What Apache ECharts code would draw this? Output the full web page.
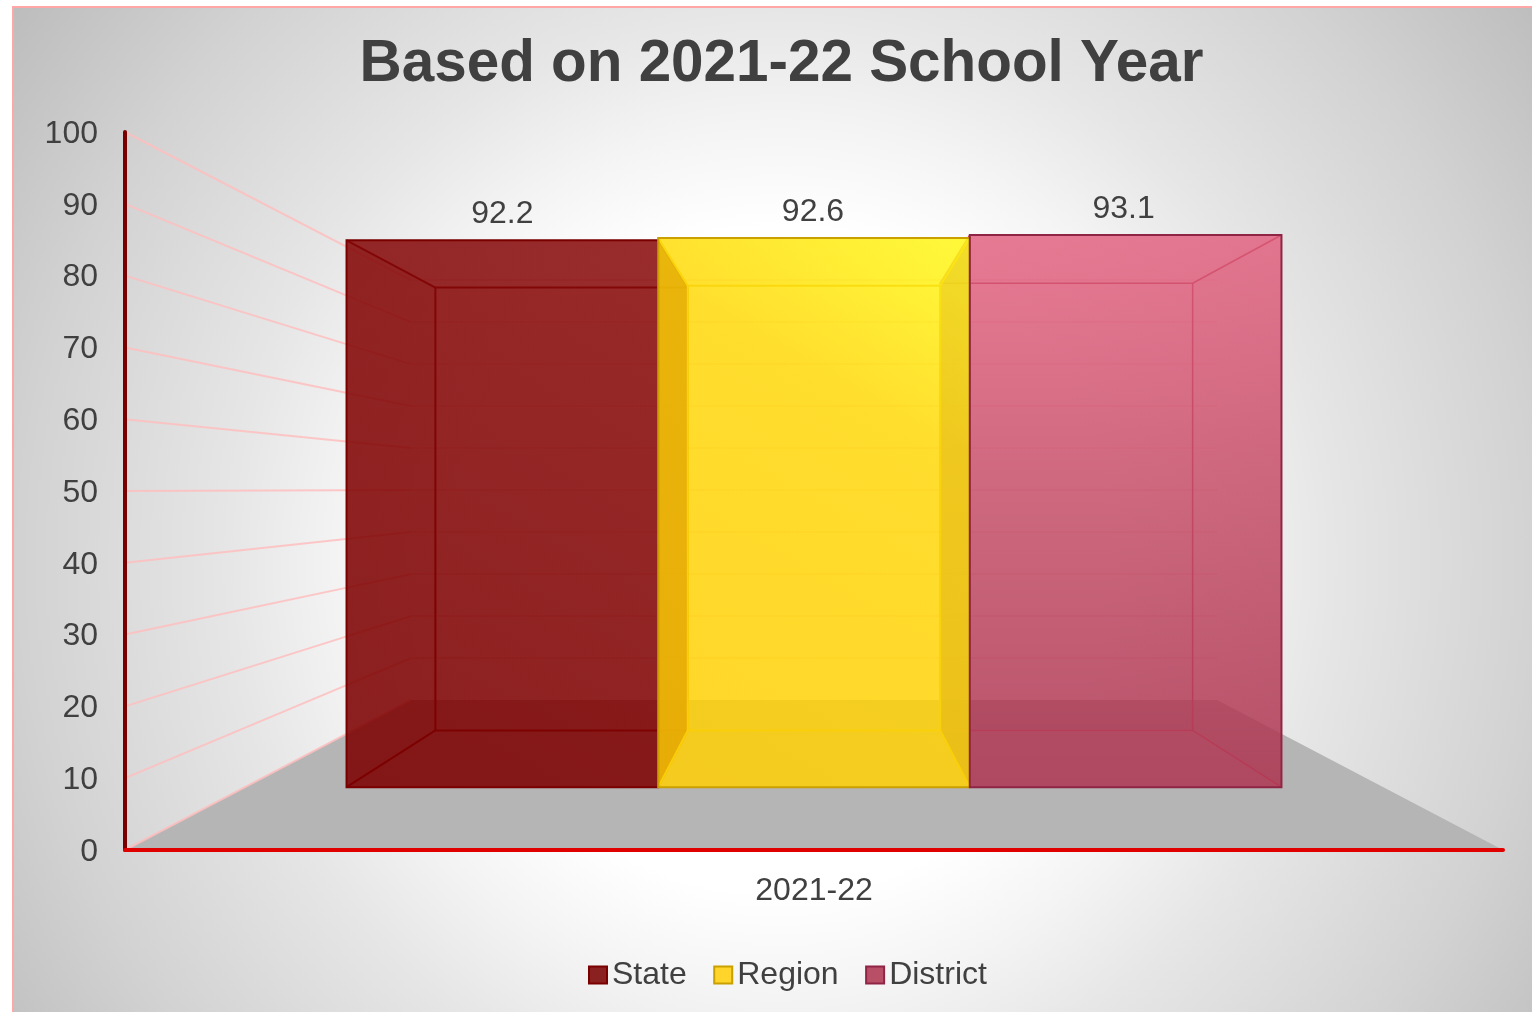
<!DOCTYPE html>
<html>
<head>
<meta charset="utf-8">
<style>html,body{margin:0;padding:0;background:#fff}#main{width:1532px;height:1012px}</style>
<script src="https://cdn.jsdelivr.net/npm/echarts@6/dist/echarts.min.js"></script>
</head>
<body>
<div id="main"></div>
<script>
var titleText = 'Based on 2021-22 School Year';
var categories = ['2021-22'];
var seriesNames = ['State', 'Region', 'District'];
var stateValues = [92.2];
var regionValues = [92.6];
var districtValues = [93.1];
var yTicks = [0, 10, 20, 30, 40, 50, 60, 70, 80, 90, 100];

var FONT = '"Liberation Sans", Arial, sans-serif';
var TEXT = '#404040';
// perspective of the 3-D chart box
var VANISH_VALUE = 50.3, S_BAR_FRONT = 0.826, S_BAR_BACK = 0.669, S_WALL = 0.585, BAR_FRAC = 0.2738;

var styles = {
  State: {
    alpha: 0.65, dir: [0, 1, 1, 0], base: '#7c0000', left: '#7c0000', right: '#7c0000', line: '#7a0000', lineBack: '#7a0000', backW: 2,
    topStops: [[0, '#861010'], [1, '#8c1414']], front: [[0, '#7c0000'], [1, '#8a0c0c']], legend: '#8b2020'
  },
  Region: {
    alpha: 0.62, dir: [0, 1, 1, 0], base: '#ffcf05', left: '#e6b000', right: '#d8d818', line: '#c9a000', lineBack: '#f2cc10', backW: 2,
    topStops: [[0, '#ffd808'], [1, '#fffb1b']], front: [[0, '#ffcf05'], [0.7, '#ffd80a'], [1, '#fff818']], legend: '#ffd52b'
  },
  District: {
    alpha: 0.6, dir: [0, 1, 0, 0], base: '#b83a58', left: null, right: null, line: '#8f2545', lineBack: '#c4445f', backW: 1.5,
    topStops: [[0, '#e2607f'], [1, '#e2607f']], front: [[0, '#aa324e'], [0.5, '#c24a64'], [1, '#e2607f']], legend: '#b94f66'
  }
};

function rgba(hex, a) {
  var n = parseInt(hex.slice(1), 16);
  return 'rgba(' + (n >> 16) + ',' + ((n >> 8) & 255) + ',' + (n & 255) + ',' + a + ')';
}
function gradient(dir, list, a) {
  return new echarts.graphic.LinearGradient(dir[0], dir[1], dir[2], dir[3], list.map(function (s) {
    return { offset: s[0], color: rgba(s[1], a) };
  }));
}
function projector(api) {
  var c = api.coord([0, 0]);
  var vp = [c[0], api.coord([0, VANISH_VALUE])[1]];
  var band = api.size([1, 0])[0];
  return {
    band: band,
    // dx: offset from band centre in front-plane pixels, v: value, s: depth scale
    p: function (dx, v, s) {
      var y = api.coord([0, v])[1];
      return [vp[0] + s * dx, vp[1] + s * (y - vp[1])];
    }
  };
}
function poly(points, fill, stroke, lw) {
  return {
    type: 'polygon', shape: { points: points },
    style: { fill: fill || 'none', stroke: stroke || 'none', lineWidth: lw || 0 }
  };
}
function line(a, b, color, lw) {
  return {
    type: 'line', shape: { x1: a[0], y1: a[1], x2: b[0], y2: b[1] },
    style: { stroke: color, lineWidth: lw, fill: 'none' }
  };
}

function renderWalls(params, api) {
  var P = projector(api), tick = api.value(1), h = P.band / 2, kids = [];
  var a = P.p(-h, tick, 1), b = P.p(-h, tick, S_WALL), c = P.p(h, tick, S_WALL);
  if (tick === yTicks[0]) {
    kids.push(poly([P.p(-h, tick, 1), P.p(-h, tick, S_WALL), P.p(h, tick, S_WALL), P.p(h, tick, 1)], '#b5b5b5'));
  }
  kids.push(line(a, b, 'rgba(255,190,190,0.85)', 2));
  if (tick !== yTicks[0]) kids.push(line(b, c, 'rgba(255,190,190,0.55)', 1.5));
  return { type: 'group', children: kids };
}

// which: 'inner' draws hidden faces, 'front' draws the near face and label
function barRenderer(name, index, which) {
  return function (params, api) {
    var st = styles[name], v = api.value(1), P = projector(api);
    var w = P.band * BAR_FRAC, x0 = (index - 1.5) * w, x1 = x0 + w, kids = [];
    var f = function (x, val) { return P.p(x, val, S_BAR_FRONT); };
    var k = function (x, val) { return P.p(x, val, S_BAR_BACK); };
    var a = st.alpha;
    if (which === 'inner') {
      kids.push(poly([k(x0, 0), k(x1, 0), k(x1, v), k(x0, v)], gradient(st.dir, st.front, a)));
      kids.push(poly([f(x0, 0), f(x1, 0), k(x1, 0), k(x0, 0)], rgba(st.base, a)));
      kids.push(poly([f(x0, v), f(x1, v), k(x1, v), k(x0, v)], gradient([0, 0, 1, 0], st.topStops, a)));
      kids.push(poly([f(x0, 0), f(x0, v), k(x0, v), k(x0, 0)], st.left ? rgba(st.left, a) : gradient(st.dir, st.front, a)));
      kids.push(poly([f(x1, 0), f(x1, v), k(x1, v), k(x1, 0)], st.right ? rgba(st.right, a) : gradient(st.dir, st.front, a)));
      var lc = st.lineBack, lw = st.backW;
      kids.push(poly([k(x0, 0), k(x1, 0), k(x1, v), k(x0, v)], 'none', lc, lw));
      kids.push(line(f(x0, 0), k(x0, 0), lc, lw));
      kids.push(line(f(x1, 0), k(x1, 0), lc, lw));
      kids.push(line(f(x0, v), k(x0, v), lc, lw));
      kids.push(line(f(x1, v), k(x1, v), lc, lw));
    } else {
      kids.push(poly([f(x0, 0), f(x1, 0), f(x1, v), f(x0, v)], gradient(st.dir, st.front, a), st.line, 2));
      var t = f((x0 + x1) / 2, v);
      kids.push({
        type: 'text',
        style: {
          text: api.value(1).toFixed(1), x: t[0] - index, y: t[1] - 26, align: 'center', verticalAlign: 'middle',
          font: '32px ' + FONT, fill: TEXT
        }
      });
    }
    return { type: 'group', children: kids };
  };
}

var valuesByName = { State: stateValues, Region: regionValues, District: districtValues };
function barData(name) { return valuesByName[name].map(function (v, i) { return [i, v]; }); }

var innerOrder = ['State', 'District', 'Region'];
var series = [{
  name: 'walls', type: 'custom', z: 2, silent: true,
  data: yTicks.map(function (t) { return [0, t]; }),
  encode: { x: 0, y: 1 }, renderItem: renderWalls
}];
innerOrder.forEach(function (n, i) {
  series.push({
    name: n, type: 'custom', z: 3 + i, data: barData(n), encode: { x: 0, y: 1 },
    itemStyle: { color: styles[n].legend, borderColor: styles[n].line, borderWidth: 2 },
    renderItem: barRenderer(n, seriesNames.indexOf(n), 'inner')
  });
});
seriesNames.forEach(function (n) {
  series.push({
    name: n, type: 'custom', z: 7, data: barData(n), encode: { x: 0, y: 1 },
    itemStyle: { color: styles[n].legend, borderColor: styles[n].line, borderWidth: 2 },
    renderItem: barRenderer(n, seriesNames.indexOf(n), 'front')
  });
});

var chart = echarts.init(document.getElementById('main'), null, { renderer: 'canvas' });
chart.setOption({
  animation: false,
  backgroundColor: '#ffffff',
  graphic: [{
    type: 'rect', z: -10, silent: true,
    shape: { x: 13, y: 7, width: 1530, height: 1016 },
    style: {
      stroke: '#ffa6a6', lineWidth: 2,
      fill: new echarts.graphic.RadialGradient(780, 560, 950, [
        { offset: 0, color: '#ffffff' },
        { offset: 0.35, color: '#ffffff' },
        { offset: 0.46, color: '#f4f4f4' },
        { offset: 0.58, color: '#e6e6e6' },
        { offset: 0.8, color: '#d2d2d2' },
        { offset: 1, color: '#bcbcbc' }
      ], true)
    }
  }],
  title: {
    text: titleText, left: 776.5, top: 31, textAlign: 'center',
    textStyle: { fontFamily: FONT, fontSize: 58.4, fontWeight: 'bold', color: TEXT }
  },
  legend: {
    data: seriesNames, left: 583, top: 954, icon: 'rect', itemWidth: 18, itemHeight: 17, itemGap: 26.5,
    textStyle: { fontFamily: FONT, fontSize: 32, color: TEXT }
  },
  grid: { left: 125, right: 29, top: 132, bottom: 162 },
  xAxis: {
    type: 'category', data: categories, z: 10,
    axisLine: { lineStyle: { color: '#e00000', width: 4, cap: 'round' } },
    axisTick: { show: false },
    axisLabel: { fontFamily: FONT, fontSize: 32, color: TEXT, margin: 25 }
  },
  yAxis: {
    type: 'value', min: 0, max: 100, interval: 10, z: 9,
    axisLine: { show: true, lineStyle: { color: '#7a0000', width: 4 } },
    axisTick: { show: false }, splitLine: { show: false },
    axisLabel: { fontFamily: FONT, fontSize: 32, color: TEXT, margin: 27, verticalAlign: 'top', lineHeight: 4 }
  },
  series: series
});
</script>
</body>
</html>
